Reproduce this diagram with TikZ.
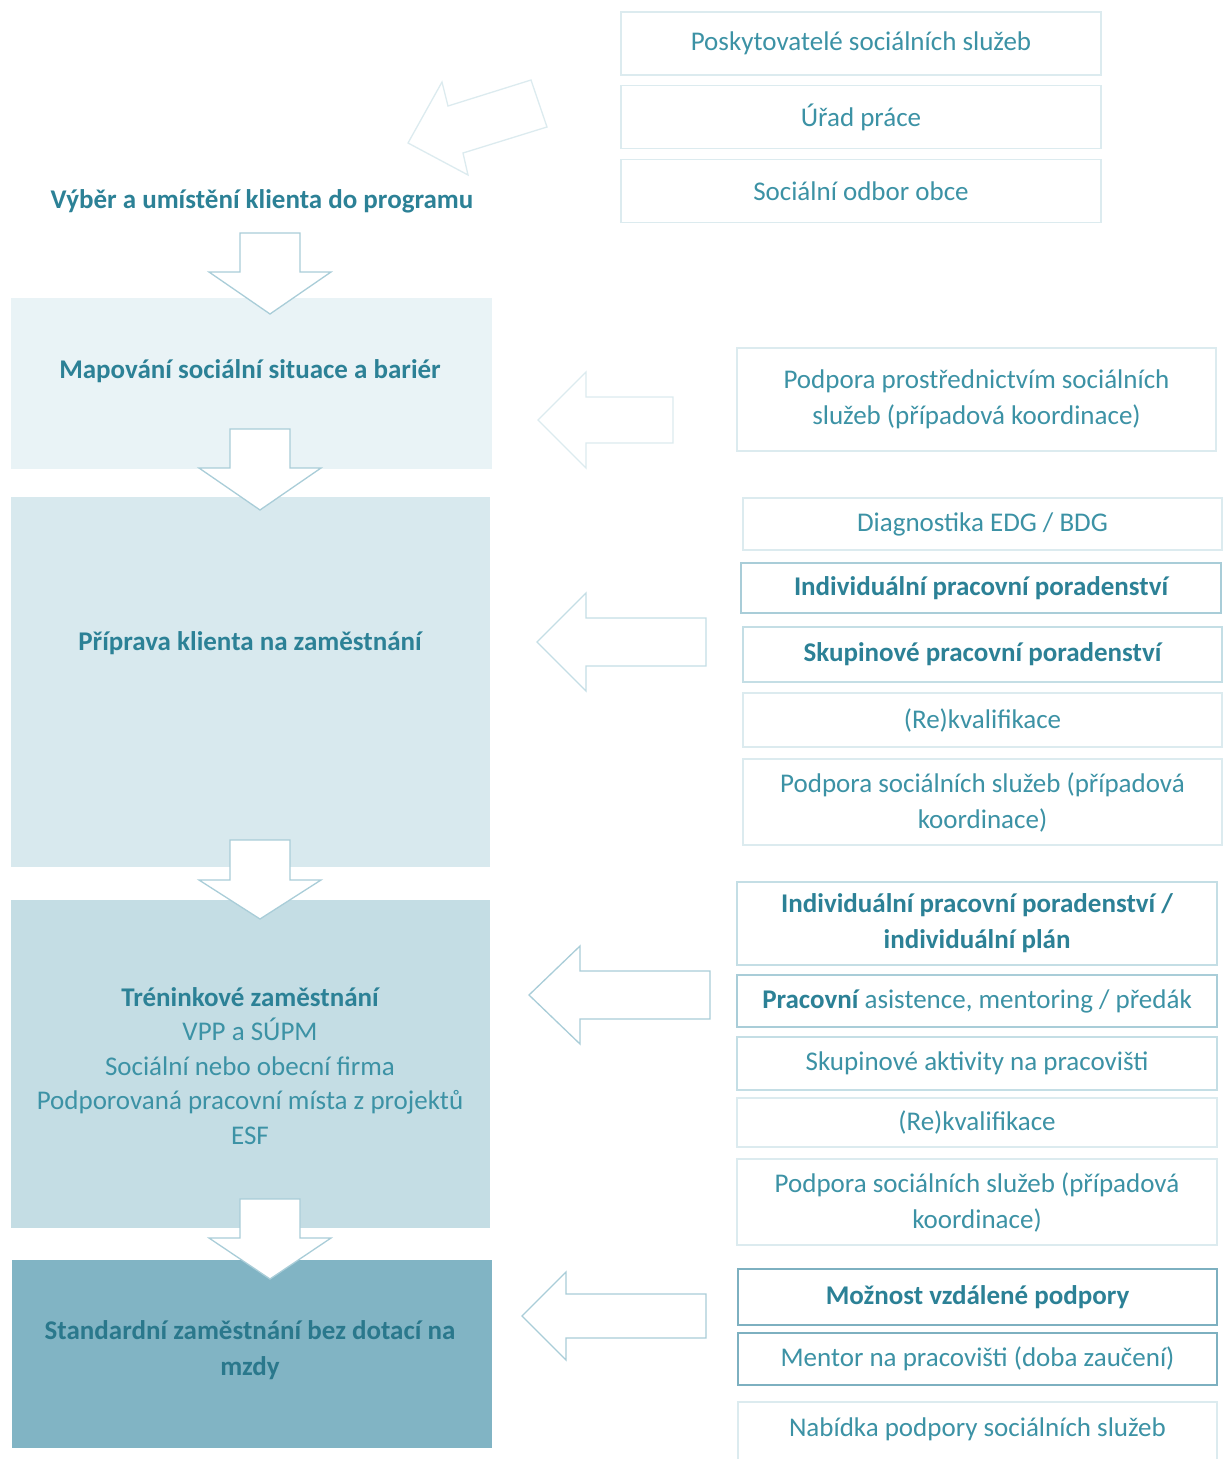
\documentclass[tikz,border=0pt]{standalone}
\usepackage{fontspec}
\setmainfont{Carlito}
\usepackage{xcolor}
\usetikzlibrary{positioning}
\definecolor{ink}{HTML}{3C92A5}
\definecolor{inkdark}{HTML}{2C8196}
\definecolor{inkdeep}{HTML}{2A788C}
\definecolor{stA}{HTML}{E9F3F6}
\definecolor{stB}{HTML}{D8E9EE}
\definecolor{stC}{HTML}{C4DDE4}
\definecolor{stD}{HTML}{81B4C4}
\definecolor{edgeA}{HTML}{DCEBEF}
\definecolor{edgeB}{HTML}{C4DEE5}
\definecolor{edgeC}{HTML}{A9CDD8}
\definecolor{edgeD}{HTML}{7DB0C0}
\newcommand{\txtsize}{\fontsize{27}{36}\selectfont}
\newcommand{\bt}[1]{\textcolor{inkdark}{\bfseries #1}}
% block arrow pointing down: colour, x, top, base of head, tip
\newcommand{\downblock}[5]{%
  \draw[blk=#1] (#2-30,#3) -- (#2+30,#3) -- (#2+30,#4) -- (#2+61,#4) -- (#2,#5)
    -- (#2-61,#4) -- (#2-30,#4) -- cycle;}
% block arrow pointing left: colour, y, tip, base of head, tail, shaft half, head half
\newcommand{\leftblock}[7]{%
  \draw[blk=#1] (#3,#2) -- (#4,#2-#7) -- (#4,#2-#6) -- (#5,#2-#6) -- (#5,#2+#6)
    -- (#4,#2+#6) -- (#4,#2+#7) -- cycle;}

\begin{document}
\begin{tikzpicture}[x=1pt, y=-1pt,
    stage/.style={inner sep=0pt, draw=none},
    headtxt/.style={text=inkdark, font=\txtsize\bfseries, align=center, inner sep=0pt},
    svc/.style={draw=#1, fill=white, line width=1.3pt, inner sep=0pt, align=center,
      text=ink, font=\txtsize, minimum width=480pt},
    blk/.style={draw=#1, fill=white, line width=1.3pt, line join=miter}]
  \useasboundingbox (0,0) rectangle (1223,1459);

  % sources of clients
  \node[svc=edgeA, minimum height=63pt] (posk) at (861,43.5) {Poskytovatelé sociálních služeb};
  \node[svc=edgeA, minimum height=63pt, below=9.5pt of posk] (urad) {Úřad práce};
  \node[svc=edgeA, minimum height=63pt, below=9.5pt of urad] (odbor) {Sociální odbor obce};
  \draw[blk=edgeA] (408,143) -- (442,82) -- (448,106) -- (531,80) -- (547,127)
    -- (463,153) -- (468,175) -- cycle;
  \node[headtxt] (vyber) at (262,201) {Výběr a umístění klienta do programu};

  % stages
  \node[stage, fill=stA, minimum width=481pt, minimum height=171pt] (map) at (251.5,383.5) {};
  \node[stage, fill=stB, minimum width=479pt, minimum height=370pt] (prip) at (250.5,682) {};
  \node[stage, fill=stC, minimum width=479pt, minimum height=328pt] (trn) at (250.5,1064) {};
  \node[stage, fill=stD, minimum width=480pt, minimum height=188pt] (std) at (252,1354) {};

  \downblock{edgeC}{270}{233}{272}{314}
  \downblock{edgeC}{260}{429}{468}{510}
  \downblock{edgeC}{260}{840}{880}{919}
  \downblock{edgeC}{270}{1199}{1238}{1279}

  \node[headtxt] (mapt) at (250,371) {Mapování sociální situace a bariér};
  \node[headtxt] (pript) at (250,643) {Příprava klienta na zaměstnání};
  \node[text=ink, font=\fontsize{27}{34.5}\selectfont, align=center, inner sep=0pt] (trnt) at (250,1066)
    {\bt{Tréninkové zaměstnání}\\VPP a SÚPM\\Sociální nebo obecní firma\\
     Podporovaná pracovní místa z projektů\\ESF};
  \node[headtxt, text=inkdeep] (stdt) at (250,1350) {Standardní zaměstnání bez dotací na\\mzdy};

  % support on the right
  \leftblock{edgeA}{420}{538}{586}{673}{23}{48}
  \node[svc=edgeA, minimum width=479pt, minimum height=103pt] (podpr) at (976.5,399.5)
    {Podpora prostřednictvím sociálních\\služeb (případová koordinace)};

  \leftblock{edgeB}{642}{537}{586}{706}{24}{49}
  \node[svc=edgeA, minimum width=479pt, minimum height=52pt] (diag) at (982.5,524) {Diagnostika EDG / BDG};
  \node[svc=edgeC, minimum height=50pt] (indiv) at (981,588) {\bt{Individuální pracovní poradenství}};
  \node[svc=edgeB, minimum width=479pt, minimum height=55pt] (skup) at (982.5,654.5) {\bt{Skupinové pracovní poradenství}};
  \node[svc=edgeA, minimum width=479pt, minimum height=54pt] (rekv) at (982.5,720) {(Re)kvalifikace};
  \node[svc=edgeA, minimum width=479pt, minimum height=86pt] (soc) at (982.5,802)
    {Podpora sociálních služeb (případová\\koordinace)};

  \leftblock{edgeC}{995}{529}{580}{710}{24}{49}
  \node[svc=edgeB, minimum height=83pt] (plan) at (977,923.5)
    {\bt{Individuální pracovní poradenství /}\\\bt{individuální plán}};
  \node[svc=edgeC, minimum height=52pt] (asist) at (977,1001) {\bt{Pracovní} asistence, mentoring / předák};
  \node[svc=edgeB, minimum height=53pt] (aktiv) at (977,1063.5) {Skupinové aktivity na pracovišti};
  \node[svc=edgeA, minimum height=49pt] (rekvb) at (977,1122.5) {(Re)kvalifikace};
  \node[svc=edgeA, minimum height=86pt] (socb) at (977,1202)
    {Podpora sociálních služeb (případová\\koordinace)};

  \leftblock{edgeC}{1316}{522}{566}{706}{22}{44}
  \node[svc=edgeD, minimum width=479pt, minimum height=56pt] (vzdal) at (977.5,1297) {\bt{Možnost vzdálené podpory}};
  \node[svc=edgeD, minimum width=479pt, minimum height=52pt] (mentor) at (977.5,1359) {Mentor na pracovišti (doba zaučení)};
  \node[svc=edgeA, minimum width=479pt, minimum height=68pt] (nab) at (977.5,1436) {};
  \node[text=ink, font=\txtsize, inner sep=0pt] (nabt) at (977.5,1429) {Nabídka podpory sociálních služeb};
\end{tikzpicture}
\end{document}
